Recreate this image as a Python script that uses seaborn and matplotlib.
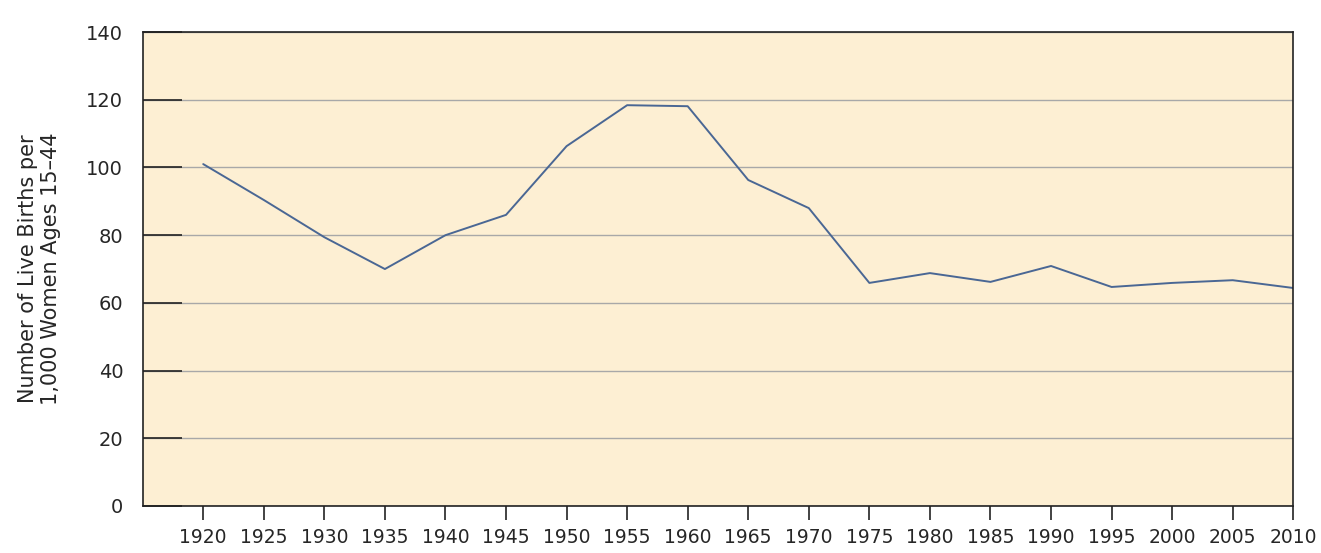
import matplotlib
matplotlib.use('Agg')
import matplotlib.pyplot as plt
import seaborn as sns
import pandas as pd

years = [1920, 1925, 1930, 1935, 1940, 1945, 1950, 1955, 1960, 1965,
         1970, 1975, 1980, 1985, 1990, 1995, 2000, 2005, 2010]
births = [101, 90.4, 79.4, 70, 80, 86, 106.3, 118.4, 118.1, 96.3,
          88, 65.9, 68.8, 66.2, 70.9, 64.7, 65.9, 66.7, 64.4]
df = pd.DataFrame({'year': years, 'births': births})

sns.set_style('white')
plt.rcParams['font.family'] = ['DejaVu Sans']

fig, ax = plt.subplots(figsize=(13.21, 5.53), dpi=100)
fig.subplots_adjust(left=0.108, right=0.979, top=0.942, bottom=0.085)
ax.set_facecolor('#fdefd3')
sns.lineplot(data=df, x='year', y='births', color='#4a6794', linewidth=1.4, ax=ax)

ax.set_xlim(1915, 2010)
ax.set_ylim(0, 140)
ax.set_xticks(years)
ax.set_yticks(range(0, 141, 20))
ax.yaxis.grid(True, color='#a8a8a8', linewidth=1)
ax.set_axisbelow(True)
for s in ax.spines.values():
    s.set_color('#222222')
    s.set_linewidth(1.2)
ax.tick_params(axis='y', left=True, direction='in', length=28, width=1.2, color='#222222', labelsize=14, pad=14)
ax.tick_params(axis='x', bottom=True, direction='out', length=10, width=1.2, color='#222222', labelsize=13.5, pad=6)
ax.set_xlabel('')
ax.set_ylabel('Number of Live Births per\n1,000 Women Ages 15–44', fontsize=15, labelpad=18)

plt.savefig('out.png', dpi=100)
